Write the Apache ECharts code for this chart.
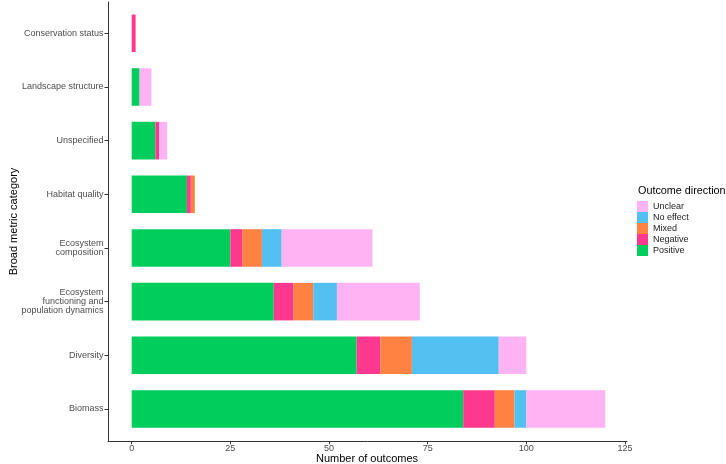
<!DOCTYPE html>
<html>
<head lang="en">
    <meta charset="UTF-8">
    <title>Outcome direction by metric category</title>
    <style>
        html, body { margin: 0; padding: 0; background: #fff; }
    </style>
</head>
<body>
<div id="container" style="height:464px;width:726px"></div>
<script type="text/javascript" src="https://cdn.jsdelivr.net/npm/echarts@6.0.0/dist/echarts.min.js"></script>
<script type="text/javascript">
    // categories, bottom to top
    var categories = ['Biomass', 'Diversity', 'Ecosystem\nfunctioning and\npopulation dynamics',
        'Ecosystem\ncomposition', 'Habitat quality', 'Unspecified', 'Landscape structure', 'Conservation status'];

    var positive = [84, 57, 36, 25, 14, 6, 2, 0];
    var negative = [8, 6, 5, 3, 1, 1, 0, 1];
    var mixed    = [5, 8, 5, 5, 1, 0, 0, 0];
    var noEffect = [3, 22, 6, 5, 0, 0, 0, 0];
    var unclear  = [20, 7, 21, 23, 0, 2, 3, 0];

    var xTicks = [0, 25, 50, 75, 100, 125];
    var legendOrder = ['Unclear', 'No effect', 'Mixed', 'Negative', 'Positive'];

    var colors = {
        'Positive': '#00CD5C',
        'Negative': '#FF388F',
        'Mixed': '#FF8243',
        'No effect': '#52C0F0',
        'Unclear': '#FFB3F2'
    };

    var font = "'Liberation Sans', Arial, sans-serif";

    function barSeries(name, values) {
        return {
            name: name,
            type: 'bar',
            stack: 'total',
            xAxisIndex: 0,
            yAxisIndex: 0,
            barWidth: '70%',
            itemStyle: { color: colors[name] },
            data: values
        };
    }

    var dom = document.getElementById("container");
    var myChart = echarts.init(dom);

    var option = {
        animation: false,
        backgroundColor: '#fff',
        textStyle: { fontFamily: font },
        grid: [
            // bars
            { left: 108, right: 99, top: 6.5, bottom: 28.2 },
            // axis frame (ggplot expands the category range a bit more)
            { left: 108, right: 99, top: 2, bottom: 22.7 }
        ],
        legend: {
            orient: 'vertical',
            left: 637,
            top: 201,
            padding: 0,
            itemWidth: 11,
            itemHeight: 11,
            itemGap: 0,
            icon: 'rect',
            data: legendOrder,
            textStyle: { fontFamily: font, fontSize: 9, color: '#222' }
        },
        xAxis: [
            {
                gridIndex: 0,
                type: 'value',
                min: -6,
                max: 125.5,
                show: false
            },
            {
                gridIndex: 1,
                type: 'value',
                min: -6,
                max: 125.5,
                axisLine: { show: true, onZero: false, lineStyle: { color: '#333', width: 1 } },
                axisTick: { show: true, length: 3, customValues: xTicks, lineStyle: { color: '#333' } },
                axisLabel: { customValues: xTicks, margin: 3, fontSize: 9, color: '#4D4D4D', fontFamily: font },
                splitLine: { show: false }
            }
        ],
        yAxis: [
            {
                gridIndex: 0,
                type: 'category',
                data: categories,
                axisLine: { show: false, onZero: false },
                axisTick: { show: true, alignWithLabel: true, length: 3.5, lineStyle: { color: '#333' } },
                axisLabel: { margin: 4.5, fontSize: 9, lineHeight: 9, color: '#4D4D4D', fontFamily: font }
            },
            {
                gridIndex: 1,
                type: 'value',
                min: 0,
                max: 1,
                axisLine: { show: true, onZero: false, lineStyle: { color: '#333', width: 1 } },
                axisTick: { show: false },
                axisLabel: { show: false },
                splitLine: { show: false }
            }
        ],
        graphic: [
            {
                type: 'text', left: 638, top: 186,
                style: { text: 'Outcome direction', font: '10.8px ' + font, fill: '#000' }
            },
            {
                type: 'text', x: 367, y: 459,
                style: { text: 'Number of outcomes', font: '11px ' + font, fill: '#000',
                    textAlign: 'center', textVerticalAlign: 'middle' }
            },
            {
                type: 'text', x: 14, y: 221.5, rotation: Math.PI / 2,
                style: { text: 'Broad metric category', font: '11px ' + font, fill: '#000',
                    textAlign: 'center', textVerticalAlign: 'middle' }
            }
        ],
        series: [
            barSeries('Positive', positive),
            barSeries('Negative', negative),
            barSeries('Mixed', mixed),
            barSeries('No effect', noEffect),
            barSeries('Unclear', unclear)
        ]
    };

    myChart.setOption(option);
</script>

</body>
</html>
